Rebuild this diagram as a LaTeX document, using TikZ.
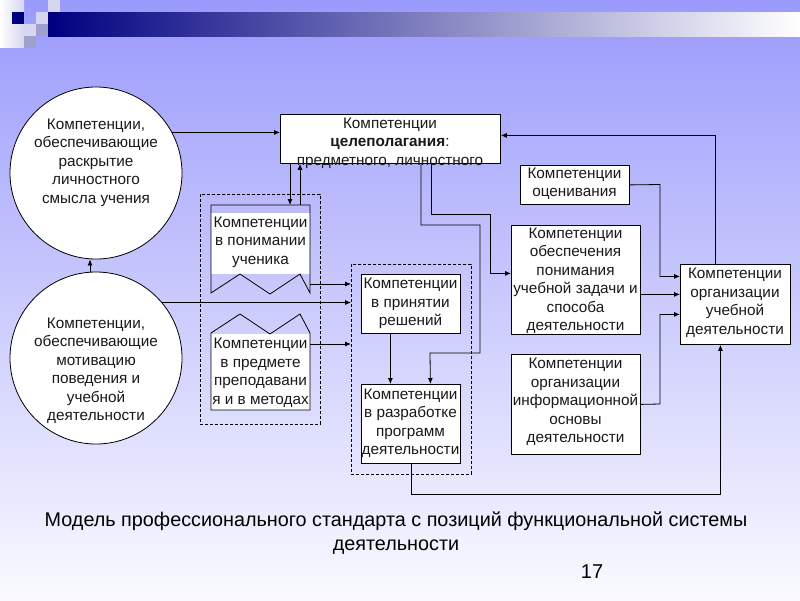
\documentclass[tikz,border=0pt]{standalone}
\usepackage{fontspec}
\setmainfont{Liberation Sans}
\usetikzlibrary{arrows.meta,calc}
\definecolor{bgtop}{RGB}{154,154,252}
\definecolor{bgbot}{RGB}{250,250,255}
\definecolor{navy}{RGB}{0,0,128}
\definecolor{sqlight}{RGB}{214,214,240}
\definecolor{sqgray}{RGB}{160,160,204}
\begin{document}
\begin{tikzpicture}[x=1pt,y=-1pt,
  arr/.style={-{Latex[length=6pt,width=5pt]}, line width=0.8pt},
  box/.style={draw=black, line width=0.8pt, fill=white, inner sep=0pt, anchor=north west},
  txt/.style={font=\fontsize{15.3}{18.5}\selectfont, align=center, text=black!90, inner sep=0pt},
  grp/.style={draw=black, line width=0.7pt, dash pattern=on 3pt off 2pt, inner sep=0pt, anchor=north west},
  ring/.style={circle, draw=black, line width=0.8pt, fill=white, minimum size=172pt, inner sep=0pt},
]
\useasboundingbox (0,0) rectangle (800,600);
% background
\shade[top color=bgtop, bottom color=bgbot] (0,0) rectangle (800,600);
\shade[left color=navy, right color=white] (48,12) rectangle (800,36);
\shade[left color=white, right color=sqlight] (0,0) rectangle (24,47);
\fill[navy] (12,12) rectangle (24,24);
\fill[sqlight] (24,24) rectangle (36,36);
\fill[sqlight] (36,12) rectangle (48,24);
\fill[sqlight] (48,0) rectangle (60,12);
\fill[sqgray] (36,24) rectangle (48,36);
\fill[sqgray] (24,36) rectangle (36,48);

% circles
\node[ring] (c1) at (96,173) {};
\node[txt] (c1t) at (96,162.5) {Компетенции,\\обеспечивающие\\раскрытие\\личностного\\смысла учения};
\node[ring] (c2) at (96,358) {};
\node[txt] (c2t) at (96,371) {Компетенции,\\обеспечивающие\\мотивацию\\поведения и\\учебной\\деятельности};

% target box
\node[box, minimum width=220pt, minimum height=49pt] (tgt) at (280,114) {};
\node[txt] (tgtt) at (390,143) {Компетенции\\\textbf{целеполагания}:\\предметного, личностного};

% group 1
\node[grp, minimum width=120pt, minimum height=230pt] (g1) at (200,194) {};
\node[fill=white, inner sep=0pt, anchor=north west, minimum width=99pt, minimum height=61pt] (ua) at (211,213) {};
\draw[line width=0.8pt] (211,293) -- (211,205) -- (310,205) -- (310,293) -- (300,274) -- (270,294) -- (240,274) -- cycle;
\node[txt] (uat) at (260.5,242) {Компетенции\\в понимании\\ученика};
\node[fill=white, inner sep=0pt, anchor=north west, minimum width=99pt, minimum height=76pt] (ub) at (211,334) {};
\draw[line width=0.8pt] (211,410) -- (211,333) -- (240,314) -- (270,334) -- (300,314) -- (310,333) -- (310,410) -- cycle;
\node[txt] (ubt) at (260.5,372.8) {Компетенции\\в предмете\\преподавани\\я и в методах};

% group 2
\node[grp, minimum width=120pt, minimum height=210pt] (g2) at (351,264) {};
\node[box, minimum width=99pt, minimum height=59pt] (dec) at (361,274) {};
\node[txt] (dect) at (410.5,303.5) {Компетенции\\в принятии\\решений};
\node[box, minimum width=99pt, minimum height=79pt] (dev) at (361,384) {};
\node[txt] (devt) at (410.5,423.5) {Компетенции\\в разработке\\программ\\деятельности};

% right boxes
\node[box, minimum width=109pt, minimum height=39pt] (oce) at (520,165) {};
\node[txt] (ocet) at (574.5,184) {Компетенции\\оценивания};
\node[box, minimum width=129pt, minimum height=109pt] (obe) at (511,225) {};
\node[txt] (obet) at (575.5,281) {Компетенции\\обеспечения\\понимания\\учебной задачи и\\способа\\деятельности};
\node[box, minimum width=129pt, minimum height=100pt] (inf) at (511,354) {};
\node[txt] (inft) at (575.5,402) {Компетенции\\организации\\информационной\\основы\\деятельности};
\node[box, minimum width=110pt, minimum height=80pt] (org) at (680,264) {};
\node[txt] (orgt) at (735,303) {Компетенции\\организации\\учебной\\деятельности};

% connectors
\draw[arr] (c1.28) -- (c1.28 -| tgt.west);
\draw[arr] ($(c2.north)+(-6,0)$) -- ($(c1.south)+(-6,0)$);
\coordinate (aDn) at (290,205);
\coordinate (aUp) at (300,205);
\draw[arr] (tgt.south -| aDn) -- (aDn);
\draw[arr] (aUp) -- (tgt.south -| aUp);
\coordinate (aR) at (310,284);
\coordinate (bR) at (310,344);
\draw[arr] (aR) -- (aR -| g2.west);
\draw[arr] (c2.40) -- (c2.40 -| g2.west);
\draw[arr] (bR) -- (bR -| g2.west);
\draw[arr] ($(dec.south)+(-20.5,0)$) -- ($(dev.north)+(-20.5,0)$);
\draw[arr] ($(tgt.south west)+(141,0)$) -- (421,225) -- (480,225) -- (480,353) -- (430,353) -- ($(dev.north)+(19.5,0)$);
\draw[arr] ($(tgt.south west)+(151,0)$) -- (431,214) -- (490,214) |- ($(obe.west)+(0,-6.5)$);
\draw[arr] (oce.east) -- (660,184.5) |- ($(org.west)+(0,-28)$);
\draw[arr] ($(obe.east)+(0,14.5)$) -- ($(org.west)+(0,-10)$);
\draw[arr] (inf.east) -- (660,404) |- ($(org.west)+(0,10)$);
\draw[arr] (dev.south) -- ++(0,31) -| ($(org.south)+(-15,0)$);
\draw[arr] ($(org.north)+(-20,0)$) |- ($(tgt.east)+(0,-3.5)$);

% caption
\node[font=\fontsize{19.8}{24}\selectfont, align=center, inner sep=0pt] (cap) at (396,533.5) {Модель профессионального стандарта с позиций функциональной системы\\деятельности};
\node[font=\fontsize{20}{22}\selectfont, inner sep=0pt] (pg) at (592,572) {17};
\end{tikzpicture}
\end{document}
